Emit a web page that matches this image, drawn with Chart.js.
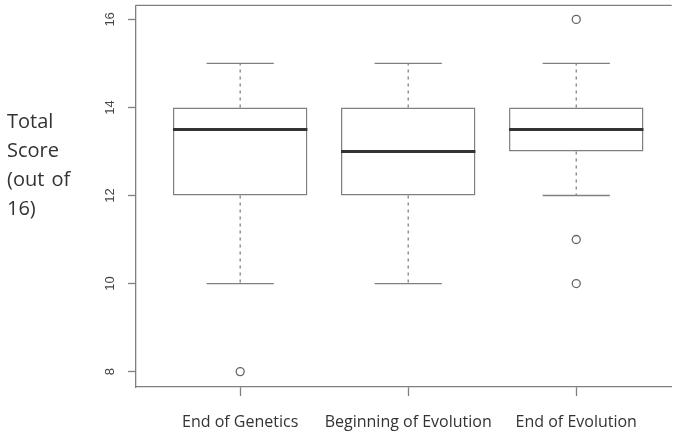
<!DOCTYPE html>
<html>
<head>
<meta charset="utf-8">
<script src="https://cdn.jsdelivr.net/npm/chart.js@4.4.1/dist/chart.umd.min.js"></script>
<style>
  html, body { margin: 0; padding: 0; background: #fff; overflow: hidden; }
  canvas { display: block; }
</style>
</head>
<body>
<canvas id="boxChart" width="677" height="435"></canvas>
<script>
// Box plot values
const groups = ['End of Genetics', 'Beginning of Evolution', 'End of Evolution'];
const lowerWhisker = [10, 10, 12];
const q1 = [12, 12, 13];
const median = [13.5, 13, 13.5];
const q3 = [14, 14, 14];
const upperWhisker = [15, 15, 15];
const outliers = [[8], [], [16, 11, 10]];
const yTicks = [8, 10, 12, 14, 16];
const yTitle = ['Total', 'Score', '(out of', '16)'];

const lineGray = '#808080';

// whiskers, caps, medians and the top frame line
const boxLines = {
  id: 'boxLines',
  afterDatasetsDraw(chart) {
    const { ctx, chartArea, scales: { x, y } } = chart;
    const seg = (x1, y1, x2, y2) => {
      ctx.beginPath();
      ctx.moveTo(x1, y1);
      ctx.lineTo(x2, y2);
      ctx.stroke();
    };
    ctx.save();
    groups.forEach((g, i) => {
      const pos = i + 1;
      const cx = x.getPixelForValue(pos);
      ctx.strokeStyle = lineGray;
      ctx.lineWidth = 1.3;
      ctx.setLineDash([3, 4]);
      seg(cx, y.getPixelForValue(q3[i]), cx, y.getPixelForValue(upperWhisker[i]));
      seg(cx, y.getPixelForValue(q1[i]), cx, y.getPixelForValue(lowerWhisker[i]));
      ctx.setLineDash([]);
      seg(x.getPixelForValue(pos - 0.2), y.getPixelForValue(upperWhisker[i]),
          x.getPixelForValue(pos + 0.2), y.getPixelForValue(upperWhisker[i]));
      seg(x.getPixelForValue(pos - 0.2), y.getPixelForValue(lowerWhisker[i]),
          x.getPixelForValue(pos + 0.2), y.getPixelForValue(lowerWhisker[i]));
      ctx.strokeStyle = '#333';
      ctx.lineWidth = 3;
      seg(x.getPixelForValue(pos - 0.4), y.getPixelForValue(median[i]),
          x.getPixelForValue(pos + 0.4), y.getPixelForValue(median[i]));
    });
    ctx.strokeStyle = lineGray;
    ctx.lineWidth = 1.3;
    seg(chartArea.left, chartArea.top, chartArea.right, chartArea.top);
    ctx.restore();
  }
};

// horizontal y axis title on the left
const sideTitle = {
  id: 'sideTitle',
  afterDraw(chart) {
    const ctx = chart.ctx;
    ctx.save();
    ctx.fillStyle = '#333';
    ctx.font = '20px "Open Sans"';
    ctx.wordSpacing = '2px';
    ctx.textBaseline = 'middle';
    ctx.textAlign = 'left';
    yTitle.forEach((t, i) => ctx.fillText(t, 7, 122 + i * 29));
    ctx.restore();
  }
};

const ctx = document.getElementById('boxChart').getContext('2d');
const boxChart = new Chart(ctx, {
  type: 'bar',
  data: {
    datasets: [{
      type: 'bar',
      data: groups.map((g, i) => ({ x: i + 1, y: [q1[i], q3[i]] })),
      backgroundColor: '#fff',
      borderColor: lineGray,
      borderWidth: 1.5,
      borderSkipped: false,
      barPercentage: 0.8,
      categoryPercentage: 1
    }, {
      type: 'scatter',
      data: outliers.flatMap((arr, i) => arr.map(v => ({ x: i + 1, y: v }))),
      pointRadius: 4,
      pointBorderWidth: 1.3,
      borderColor: '#666',
      backgroundColor: '#fff'
    }]
  },
  options: {
    responsive: false,
    animation: false,
    layout: { padding: { top: 5, left: 0, right: 0, bottom: 0 } },
    plugins: { legend: { display: false }, tooltip: { enabled: false } },
    scales: {
      x: {
        type: 'linear',
        min: 0.38,
        max: 3.568,
        offset: false,
        grid: { drawOnChartArea: false, offset: false, tickLength: 9, tickColor: lineGray, tickWidth: 1.3 },
        border: { color: lineGray, width: 1.3 },
        ticks: {
          autoSkip: false,
          maxRotation: 0,
          padding: 17,
          color: '#333',
          font: { family: 'Open Sans', size: 16 },
          callback: v => groups[v - 1] || ''
        },
        afterBuildTicks: s => { s.ticks = groups.map((g, i) => ({ value: i + 1 })); },
        afterFit: s => { s.height = 48; s.paddingLeft = 0; s.paddingRight = 0; }
      },
      y: {
        min: 7.65,
        max: 16.32,
        grid: { drawOnChartArea: false, tickLength: 8, tickColor: lineGray, tickWidth: 1.3 },
        border: { color: lineGray, width: 1.3 },
        ticks: {
          minRotation: 90,
          maxRotation: 90,
          crossAlign: 'center',
          padding: 10,
          color: '#444',
          font: { family: 'Liberation Sans', size: 13 }
        },
        afterBuildTicks: s => { s.ticks = yTicks.map(v => ({ value: v })); },
        afterFit: s => { s.width = 136; s.paddingTop = 0; s.paddingBottom = 0; }
      }
    }
  },
  plugins: [boxLines, sideTitle]
});
</script>
</body>
</html>
